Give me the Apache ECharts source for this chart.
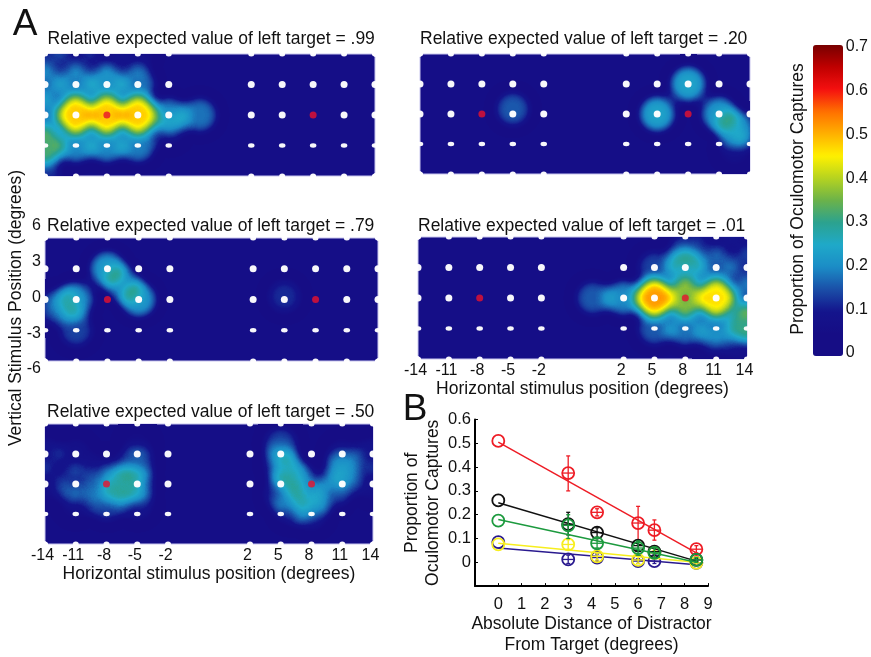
<!DOCTYPE html>
<html><head><meta charset="utf-8"><style>html,body{margin:0;padding:0;background:#fff}#c{width:871px;height:657px}</style>
<script src="https://cdn.jsdelivr.net/npm/echarts@6/dist/echarts.min.js"></script></head>
<body><div id="c"></div>
<script>
// ---------- data ----------
const xTicksDeg = [-14,-11,-8,-5,-2,2,5,8,11,14];
const yTicksDeg = [-6,-3,0,3,6];
const barStops = ['#160d85','#160d85','#14148c','#1a4fa8','#1b8cc6','#1fa9c9','#2ba28f','#6bb24a','#b5d320','#fff000','#ffb000','#ff7000','#f51010','#c00000','#780000'];
const heat99 = [[-14,6,.12],[-11,6,.1],[-8,6,.08],[-5,6,.08],
 [-14,3,.18],[-11,3,.19],[-8,3,.21],[-5,3,.18],
 [-14,0,.18],[-11,0,.48],[-8,0,.48],[-5,0,.48],[-2,0,.19],[-0.5,0,.18],
 [-14,-3,.32],[-11,-3,.2],[-8,-3,.2],[-5,-3,.19],[-2,-1.5,.08],[-14,-6,.12]];
const heat20 = [[-5,.5,.16],[5,0,.24],[8,3,.24],[11,0,.22],[12.5,-1.5,.16],[14,-1.5,.08],[12.5,-3.5,.08]];
const heat79 = [[-8,3,.22],[-6.5,1.5,.16],[-5,0,.22],[-11,0,.2],[-12.5,-.5,.12],[-14,-1,.07],[-11,-3,.14],[5,.3,.12]];
const heat50 = [[-14,0,.08],[-14,3,.1],[-11,3,.08],[-11,0,.12],[-11,-2,.07],[-8,1.5,.07],[-8,0,.1],[-8,-2,.14],[-6.5,0,.14],[-5,0,.14],[-5,2,.12],[-5,-2,.1],[-5,4,.06],
 [5,4,.14],[5,2,.12],[6,1,.16],[7.5,0,.1],[5,-1,.12],[8,-1.5,.12],[6,-2.5,.1],[8,-3,.1],[11,1.5,.14],[11,0,.09],[10,-1,.08],[11,3,.08],[14,3,.1],[14,0,.08]];
const heat01 = [[.5,0,.16],[2,0,.2],[5,0,.52],[8,3,.24],[8,0,.36],[11,0,.46],
 [5,3,.14],[8,5,.12],[11,3,.16],[14,3,.12],[14,0,.16],[11,6,.08],[14,6,.08],[5,-3,.16],[8,-3,.18],[11,-3,.16],[14,-2.5,.3],[14,-5,.08],[11,-4.5,.07]];
const dist = [0,3,4.24,6,6.7,8.5];
const redMean=[.51,.375,.21,.165,.135,.055], redLow=[.51,.30,.195,.095,.093,.04], redHigh=[.51,.447,.225,.235,.178,.07];
const blackMean=[.26,.16,.125,.07,.045,.01], blackLow=[.26,.115,.105,.05,.03,.005], blackHigh=[.26,.21,.145,.09,.06,.015];
const greenMean=[.175,.155,.08,.06,.04,.01], greenLow=[.175,.10,.06,.03,.02,0], greenHigh=[.175,.20,.10,.09,.06,.02];
const yellowMean=[.075,.075,.025,.01,.04,-.002], yellowLow=[.075,.055,.01,-.005,.02,-.007], yellowHigh=[.075,.095,.04,.025,.05,.005];
const blueMean=[.085,.012,.02,.005,.005,-.002], blueLow=[.085,-.005,.005,-.005,-.005,-.006], blueHigh=[.085,.03,.035,.015,.015,.003];
const fitX=[0,8.5];
const redFit=[.505,.04], blackFit=[.25,.005], greenFit=[.18,0], yellowFit=[.08,0], blueFit=[.06,-.01];
// ---------- layout ----------
const FONT='"Liberation Sans",Arial,sans-serif';
const panels=[
 {t:'Relative expected value of left target = .99',heat:heat99,l:45,r:375,y0:54,y1:176,tx:47.5,ty:39},
 {t:'Relative expected value of left target = .20',heat:heat20,l:420,r:750,y0:54,y1:174,tx:420,ty:39},
 {t:'Relative expected value of left target = .79',heat:heat79,l:45,r:378,y0:238,y1:361,tx:47,ty:226},
 {t:'Relative expected value of left target = .01',heat:heat01,l:418,r:747,y0:237,y1:359,tx:418,ty:226,labels:true},
 {t:'Relative expected value of left target = .50',heat:heat50,l:45,r:373,y0:424,y1:544,tx:47,ty:412,labels:true}];
const plot=x=>Math.abs(x)<=2?x*2:(x<0?x-2:x+2);
const unplot=p=>Math.abs(p)<=4?p/2:(p<0?p+2:p-2);
const c=.35;
const outline=[[-16+c,-6],[16-c,-6],[16-c*.3,-6+c*.3],[16,-6+c],[16,6-c],[16-c*.3,6-c*.3],[16-c,6],[-16+c,6],[-16+c*.3,6-c*.3],[-16,6-c],[-16,-6+c],[-16+c*.3,-6+c*.3],[-16+c,-6]];
echarts.registerMap('panel',{type:'FeatureCollection',features:[{type:'Feature',properties:{name:'p'},geometry:{type:'Polygon',coordinates:[outline]}}]});
const stim=[];xTicksDeg.forEach(x=>yTicksDeg.forEach(y=>{if(!(y===0&&Math.abs(x)===8))stim.push([plot(x),y])}));
const targets=[[plot(-8),0],[plot(8),0]];
const geo=[],grid=[],xAxis=[],yAxis=[],series=[],title=[];
panels.forEach((p,i)=>{
 const pos={left:p.l,top:p.y0,width:p.r-p.l,height:p.y1-p.y0};
 geo.push({map:'panel',...pos,silent:true,roam:false,z:1,itemStyle:{areaColor:'#150e87',borderColor:'#c9c6ee',borderWidth:1},emphasis:{disabled:true},select:{disabled:true},label:{show:false}});
 grid.push({...pos});
 xAxis.push({type:'value',gridIndex:i,min:-16,max:16,show:!!p.labels,splitLine:{show:false},axisLine:{show:false},axisTick:{show:false},
  axisLabel:{customValues:xTicksDeg.map(plot),formatter:v=>String(unplot(v)),fontFamily:FONT,fontSize:16,color:'#111',margin:4,padding:[0,5,0,0]},
  name:p.labels?'Horizontal stimulus position (degrees)':'',nameLocation:'middle',nameGap:19,nameTextStyle:{fontFamily:FONT,fontSize:17.5,color:'#111'}});
 yAxis.push({type:'value',gridIndex:i,min:-6,max:6,show:false});
 series.push({type:'heatmap',coordinateSystem:'geo',geoIndex:i,data:p.heat.map(d=>[plot(d[0]),d[1],d[2]]),pointSize:19,blurSize:12,minOpacity:1,maxOpacity:1,z:3});
 series.push({type:'scatter',xAxisIndex:i,yAxisIndex:i,data:stim,symbolSize:(v)=>v[1]===-3?[6.5,4.5]:(Math.abs(v[1])===6?[6,5]:7),itemStyle:{color:'#fff',opacity:.97},silent:true,z:5,animation:false});
 series.push({type:'scatter',xAxisIndex:i,yAxisIndex:i,data:targets,symbolSize:7,itemStyle:{color:'#e8112d'},silent:true,z:6});
 title.push({text:p.t,left:p.tx,top:p.ty-9,padding:0,textStyle:{fontFamily:FONT,fontSize:17.5,fontWeight:'normal',color:'#111'}});
});
// y tick labels of left column
grid.push({left:45,width:300,top:226,height:143});
xAxis.push({type:'value',gridIndex:5,show:false,min:0,max:1});
yAxis.push({type:'value',gridIndex:5,min:-6,max:6,interval:3,axisLine:{show:false},axisTick:{show:false},splitLine:{show:false},axisLabel:{margin:4,fontFamily:FONT,fontSize:16,color:'#111'}});
// colour bar axis
grid.push({left:813,width:30,top:47,height:306});
xAxis.push({type:'value',gridIndex:6,show:false,min:0,max:1});
yAxis.push({type:'value',gridIndex:6,position:'right',min:0,max:.7,interval:.1,axisLine:{show:false},axisTick:{show:false},splitLine:{show:false},
 axisLabel:{margin:4,fontFamily:FONT,fontSize:16,color:'#111',formatter:v=>v===0?'0':v.toFixed(1)}});
// panel B
grid.push({left:475,right:163,top:419.5,bottom:62.5});
xAxis.push({type:'value',gridIndex:7,min:-1,max:9,interval:1,splitLine:{show:false},axisLine:{onZero:false,lineStyle:{color:'#000',width:2}},axisTick:{inside:true,length:3,lineStyle:{color:'#000'}},
 axisLabel:{margin:10,fontFamily:FONT,fontSize:16.5,color:'#111',formatter:v=>v<0?'':String(v)},
 name:'Absolute Distance of Distractor\nFrom Target (degrees)',nameLocation:'middle',nameGap:22,nameTextStyle:{fontFamily:FONT,fontSize:17.5,lineHeight:21,color:'#111'}});
yAxis.push({type:'value',gridIndex:7,min:-.1,max:.6,interval:.1,splitLine:{show:false},axisLine:{onZero:false,lineStyle:{color:'#000',width:2}},axisTick:{inside:true,length:3,lineStyle:{color:'#000'}},
 axisLabel:{margin:4,fontFamily:FONT,fontSize:16.5,color:'#111',formatter:v=>v<-.01?'':(Math.abs(v)<.001?'0':v.toFixed(1))},
 name:'Proportion of\nOculomotor Captures',nameLocation:'middle',nameGap:25,nameTextStyle:{fontFamily:FONT,fontSize:17.5,lineHeight:21,color:'#111'}});
const sets=[
 ['#2a1a8f',blueMean,blueLow,blueHigh,blueFit],
 ['#f7ee1e',yellowMean,yellowLow,yellowHigh,yellowFit],
 ['#ee1c25',redMean,redLow,redHigh,redFit],
 ['#111111',blackMean,blackLow,blackHigh,blackFit],
 ['#1c9a3e',greenMean,greenLow,greenHigh,greenFit]];
sets.forEach((s,k)=>{
 series.push({type:'line',xAxisIndex:7,yAxisIndex:7,data:fitX.map((x,j)=>[x,s[4][j]]),showSymbol:false,lineStyle:{color:s[0],width:1.5},z:10+k,silent:true});
 series.push({type:'custom',xAxisIndex:7,yAxisIndex:7,clip:false,z:10+k,silent:true,encode:{x:0,y:1},
  data:dist.map((x,j)=>[x,s[1][j],s[2][j],s[3][j]]),
  renderItem:(params,api)=>{
   const pt=api.coord([api.value(0),api.value(1)]),lo=api.coord([api.value(0),api.value(2)]),hi=api.coord([api.value(0),api.value(3)]);
   const st={stroke:s[0],lineWidth:1.3,fill:null};const ch=[];
   if(api.value(2)!==api.value(3)){
    ch.push({type:'line',shape:{x1:pt[0],y1:lo[1],x2:pt[0],y2:hi[1]},style:st});
    ch.push({type:'line',shape:{x1:pt[0]-2,y1:lo[1],x2:pt[0]+2,y2:lo[1]},style:st});
    ch.push({type:'line',shape:{x1:pt[0]-2,y1:hi[1],x2:pt[0]+2,y2:hi[1]},style:st});
    ch.push({type:'line',shape:{x1:pt[0]-5.5,y1:pt[1],x2:pt[0]+5.5,y2:pt[1]},style:st});
   }
   ch.push({type:'circle',shape:{cx:pt[0],cy:pt[1],r:6},style:{stroke:s[0],lineWidth:1.8,fill:null}});
   return {type:'group',children:ch};
  }});
});
const txt=(text,x,y,size,rot)=>({type:'text',x,y,rotation:rot||0,silent:true,style:{text,x:0,y:0,fontFamily:FONT,fontSize:size,fill:'#111',align:'center',verticalAlign:'middle'}});
const graphic=[txt('A',25,25,37),txt('B',415,410,37),
 txt('Vertical Stimulus Position (degrees)',16,308,17.5,Math.PI/2),
 txt('Proportion of Oculomotor Captures',798,199,17.5,Math.PI/2)];
const chart=echarts.init(document.getElementById('c'),null,{renderer:'canvas'});
chart.setOption({animation:false,backgroundColor:'#fff',title,geo,grid,xAxis,yAxis,series,graphic,
 visualMap:{type:'continuous',min:0,max:.7,seriesIndex:[0,3,6,9,12],calculable:false,left:813,top:45,itemWidth:30,itemHeight:311,padding:0,inRange:{color:barStops},show:true}});
</script></body></html>
